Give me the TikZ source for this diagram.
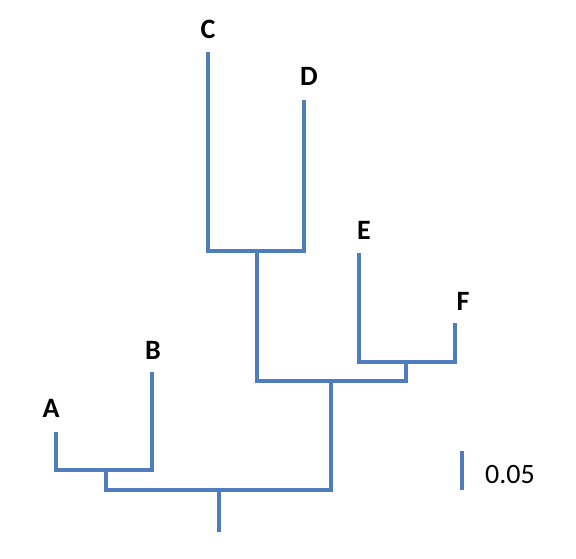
\documentclass[tikz,border=0pt]{standalone}
\usepackage{fontspec}
\setmainfont{Carlito}
\usetikzlibrary {positioning}
\definecolor{treeblue}{HTML}{4F7CBA}

\begin{document}
\begin{tikzpicture}[x=1pt ,y=-1pt ,
branch/.style ={ draw=treeblue , line width =3.5pt },
leaf/.style ={ font=\fontsize{28}{32}\selectfont\bfseries , inner sep =0pt },
scale label/.style ={ font=\fontsize{28}{32}\selectfont , inner sep =0pt }]
\useasboundingbox (0,0) rectangle (576,558);
% leaf tips
\coordinate (a) at (56,432);
\coordinate (b) at (152,372);
\coordinate (c) at (208,52);
\coordinate (d) at (304,100);
\coordinate (e) at (359,253);
\coordinate (f) at (455,323);
% inner nodes
\coordinate (ab) at (106,470);
\coordinate (cd) at (257,251);
\coordinate (ef) at (406,362);
\coordinate (cdef) at (331,381);
\coordinate (root) at (219,490);
\coordinate (rootend) at (219,532);
% labels
\node[leaf] (A) at (51,408) {A};
\node[leaf] (B) at (153,350) {B};
\node[leaf] (C) at (208,29) {C};
\node[leaf] (D) at (309,76) {D};
\node[leaf] (E) at (364,230) {E};
\node[leaf] (F) at (463,301) {F};
% branches
\draw[branch] (a) |- (ab) -| (b);
\draw[branch] (c) |- (cd) -| (d);
\draw[branch] (e) |- (ef) -| (f);
\draw[branch] (cd) |- (cdef) -| (ef);
\draw[branch] (ab) |- (root) -| (cdef);
\draw[branch] (root) -- (rootend);
% scale bar
\coordinate (s1) at (462,451);
\coordinate (s2) at (462,490);
\draw[branch] (s1) -- (s2);
\node[scale label] (scale) at (510,475) {0.05};
\end{tikzpicture}
\end{document}
